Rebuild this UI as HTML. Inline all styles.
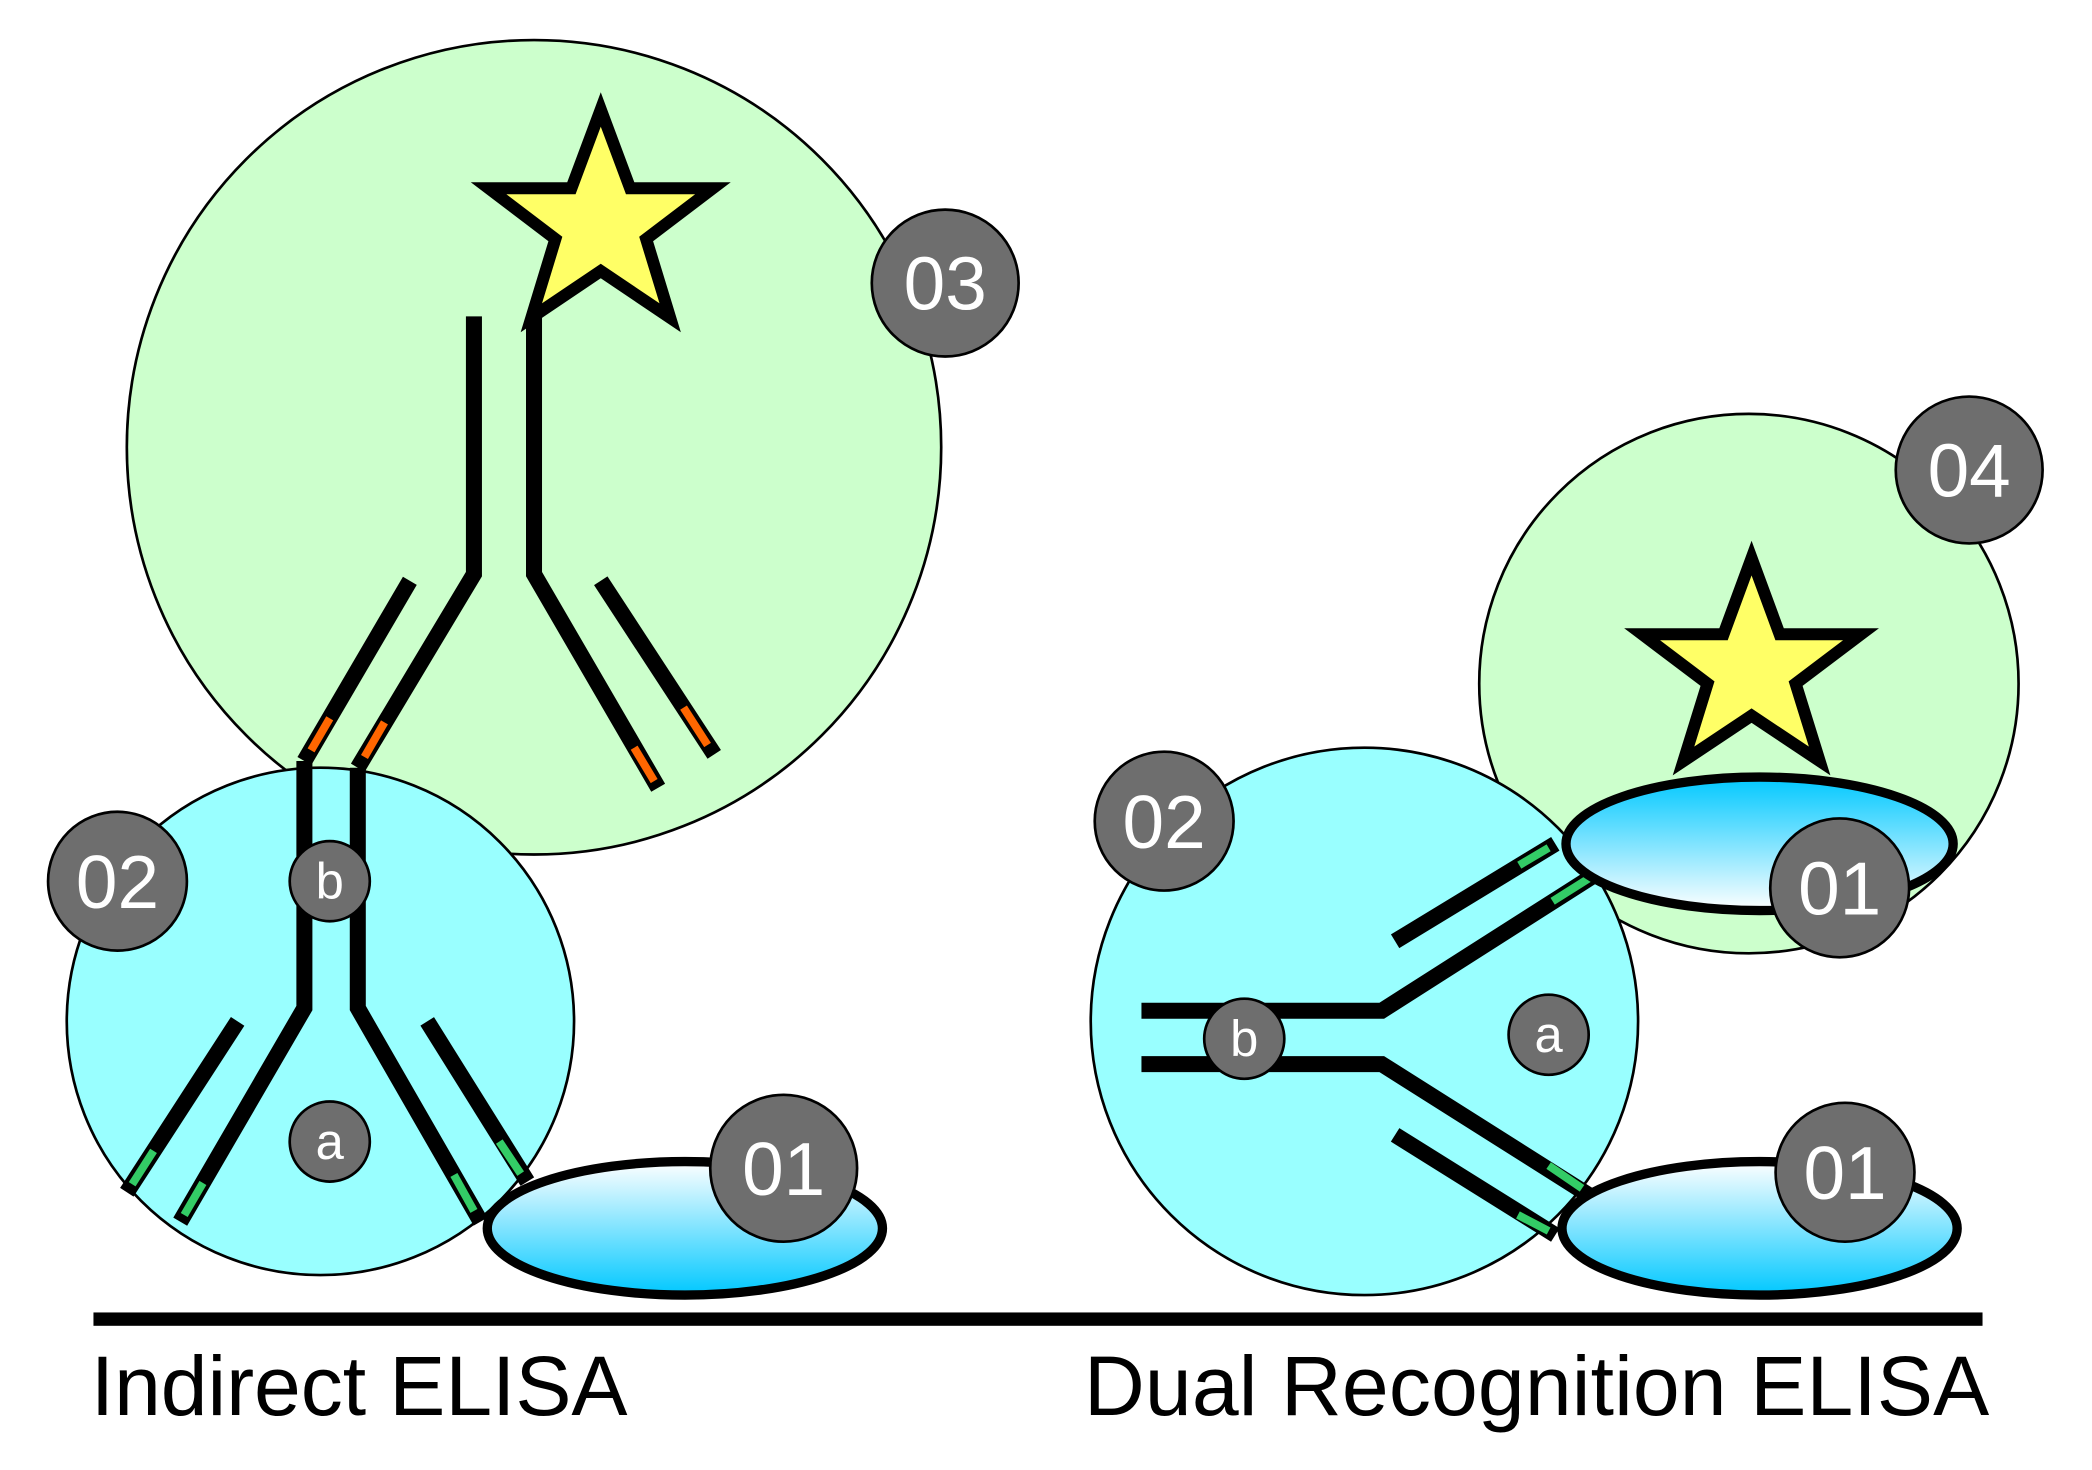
<!DOCTYPE html>
<html><head><meta charset="utf-8"><style>
html,body{margin:0;padding:0;background:#fff;width:2092px;height:1470px;overflow:hidden}
svg{display:block}
text{font-family:"Liberation Sans",sans-serif}
</style></head><body>
<svg width="2092" height="1470" viewBox="0 0 1567 1101" preserveAspectRatio="none" xmlns="http://www.w3.org/2000/svg">
<defs>
<linearGradient id="gd" x1="0" y1="0" x2="0" y2="1"><stop offset="0" stop-color="#ffffff"/><stop offset="1" stop-color="#00c8ff"/></linearGradient>
<linearGradient id="gu" x1="0" y1="0" x2="0" y2="1"><stop offset="0" stop-color="#00c8ff"/><stop offset="1" stop-color="#ffffff"/></linearGradient>
</defs>
<rect width="1567" height="1101" fill="#fff"/>
<circle cx="400" cy="335" r="305" fill="#ccffcc" stroke="#000" stroke-width="2"/>
<circle cx="1310" cy="512" r="202" fill="#ccffcc" stroke="#000" stroke-width="2"/>
<circle cx="240" cy="765" r="190" fill="#99ffff" stroke="#000" stroke-width="2"/>
<circle cx="1022" cy="765" r="205" fill="#99ffff" stroke="#000" stroke-width="2"/>

<g stroke="#000" stroke-width="12" fill="none" stroke-linejoin="miter">
<polyline points="268,575 355,430 355,237"/>
<polyline points="493,590 400,430 400,237"/>
<line x1="307" y1="435" x2="228" y2="570"/>
<line x1="450" y1="435" x2="535" y2="565"/>
<polyline points="228,570 228,755 135,915"/>
<polyline points="268,575 268,755 360,915"/>
<line x1="178" y1="765" x2="95" y2="893"/>
<line x1="320" y1="765" x2="395" y2="885"/>
<polyline points="855,757 1035,757 1195,655"/>
<polyline points="855,797 1035,797 1190,895"/>
<line x1="1045" y1="705" x2="1165" y2="632"/>
<line x1="1045" y1="850" x2="1165" y2="925"/>
</g>
<g stroke-width="6" fill="none">
<line x1="247" y1="538" x2="233" y2="562" stroke="#ff6600"/>
<line x1="288" y1="541" x2="273" y2="567" stroke="#ff6600"/>
<line x1="475" y1="560" x2="490" y2="585" stroke="#ff6600"/>
<line x1="512" y1="530" x2="530" y2="558" stroke="#ff6600"/>
<line x1="115" y1="862" x2="99" y2="887" stroke="#33cc66"/>
<line x1="152" y1="886" x2="138" y2="910" stroke="#33cc66"/>
<line x1="340" y1="880" x2="355" y2="907" stroke="#33cc66"/>
<line x1="374" y1="855" x2="390" y2="879" stroke="#33cc66"/>
<line x1="1138" y1="648" x2="1160" y2="635" stroke="#33cc66"/>
<line x1="1163" y1="675" x2="1190" y2="658" stroke="#33cc66"/>
<line x1="1160" y1="873" x2="1185" y2="890" stroke="#33cc66"/>
<line x1="1137" y1="910" x2="1160" y2="922" stroke="#33cc66"/>
</g>

<rect x="70" y="983" width="1415" height="10" fill="#000"/>

<ellipse cx="513" cy="920" rx="148" ry="50" fill="url(#gd)" stroke="#000" stroke-width="7"/>
<ellipse cx="1318" cy="920" rx="148" ry="50" fill="url(#gd)" stroke="#000" stroke-width="7"/>
<ellipse cx="1318" cy="632" rx="145" ry="50" fill="url(#gu)" stroke="#000" stroke-width="7"/>

<polygon fill="#ffff66" stroke="#000" stroke-width="9" stroke-linejoin="miter" points="450,82 472,141 534,141 484,179 502,238 450,203 398,238 416,179 366,141 428,141"/>
<polygon fill="#ffff66" stroke="#000" stroke-width="9" stroke-linejoin="miter" points="1312,418 1333,475 1394,475 1345,512 1363,570 1312,536 1261,570 1279,512 1230,475 1291,475"/>

<g fill="#6e6e6e" stroke="#000" stroke-width="2">
<circle cx="708" cy="212" r="55"/>
<circle cx="88" cy="660" r="52"/>
<circle cx="587" cy="875" r="55"/>
<circle cx="872" cy="615" r="52"/>
<circle cx="1475" cy="352" r="55"/>
<circle cx="1378" cy="665" r="52"/>
<circle cx="1382" cy="878" r="52"/>
<circle cx="247" cy="660" r="30"/>
<circle cx="247" cy="855" r="30"/>
<circle cx="932" cy="778" r="30"/>
<circle cx="1160" cy="775" r="30"/>
</g>
<g fill="#fff" font-size="56" text-anchor="middle">
<text x="708" y="232">03</text>
<text x="88" y="680">02</text>
<text x="587" y="895">01</text>
<text x="872" y="635">02</text>
<text x="1475" y="372">04</text>
<text x="1378" y="685">01</text>
<text x="1382" y="898">01</text>
</g>
<g fill="#fff" font-size="38" text-anchor="middle">
<text x="247" y="673">b</text>
<text x="247" y="868">a</text>
<text x="932" y="791">b</text>
<text x="1160" y="788">a</text>
</g>
<text x="68" y="1060" font-size="63" fill="#000" textLength="402">Indirect ELISA</text>
<text x="812" y="1060" font-size="63" fill="#000" textLength="678">Dual Recognition ELISA</text>
</svg>
</body></html>
